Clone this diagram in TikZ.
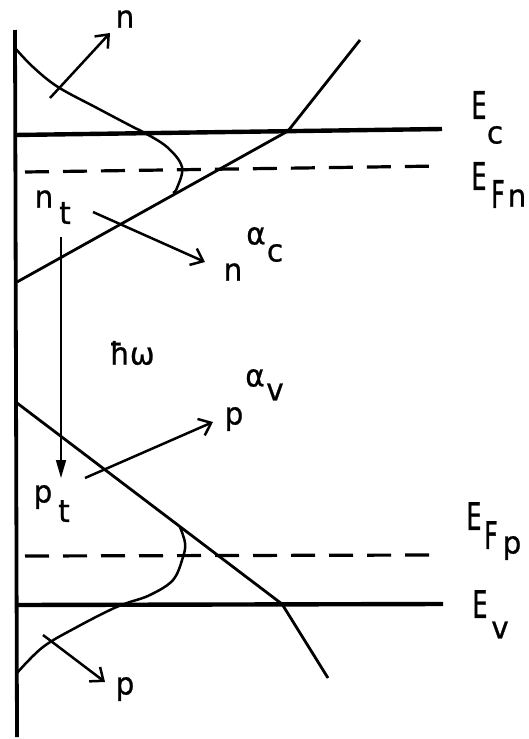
\documentclass[tikz,border=0pt]{standalone}
\usepackage{fontspec}
\usetikzlibrary{arrows.meta}
\newfontfamily\uf[FakeStretch=0.62,FakeBold=0.8]{DejaVu Sans}
\newfontfamily\lf[FakeStretch=0.95,FakeBold=0.8]{DejaVu Sans}
\begin{document}
\begin{tikzpicture}[x=1pt,y=-1pt,
  axisln/.style={line width=3.8pt},
  band/.style={line width=4.4pt},
  edge/.style={line width=2.8pt},
  curve/.style={line width=2.5pt},
  thinln/.style={line width=1.6pt},
  fermi/.style={line width=3.2pt, dash pattern=on 24pt off 14pt},
  barb/.style={line width=2.5pt,-{Straight Barb[length=11pt,width=18pt]}},
  up/.style={font=\uf\fontsize{38}{38}\selectfont,inner sep=0pt},
  low/.style={font=\lf\fontsize{31}{31}\selectfont,inner sep=0pt},
  hbar/.style={font=\lf\fontsize{31}{31}\selectfont,inner sep=0pt}]
\fill[white] (0,0) rectangle (528,739);
\useasboundingbox (0,0) rectangle (528,739);
% coordinates
\coordinate (axT) at (15,30);  \coordinate (axB) at (17,737);
\coordinate (EcL) at (15,135); \coordinate (EcR) at (442,129);
\coordinate (FnL) at (25,172); \coordinate (FnR) at (440,166);
\coordinate (FpL) at (25,556); \coordinate (FpR) at (432,555);
\coordinate (EvL) at (17,605); \coordinate (EvR) at (443,604);
\coordinate (cb0) at (17,282); \coordinate (cb1) at (288,131); \coordinate (cb2) at (360,40);
\coordinate (vb0) at (17,403); \coordinate (vb1) at (282,604); \coordinate (vb2) at (328,678);
\coordinate (nS) at (50,98);   \coordinate (nE) at (110,33);
\coordinate (ncS) at (93,212); \coordinate (ncE) at (205,262);
\coordinate (tS) at (61,237);  \coordinate (tE) at (61,478);
\coordinate (pvS) at (85,478); \coordinate (pvE) at (213,422);
\coordinate (pS) at (43,635);  \coordinate (pE) at (105,682);
% axis and levels
\draw[axisln] (axT) -- (axB);
\draw[band] (EcL) -- (EcR);
\draw[band] (EvL) -- (EvR);
\draw[fermi] (FnL) -- (FnR);
\draw[fermi] (FpL) -- (FpR);
% band edges
\draw[edge] (cb0) -- (cb1) -- (cb2);
\draw[edge] (vb0) -- (vb1) -- (vb2);
% distributions
\draw[curve] plot[smooth,tension=0.6] coordinates {(15,48) (33,67) (58,87) (97,108) (133,127) (143,132) (167,147) (182,167) (177,188) (173,193)};
\draw[curve] plot[smooth,tension=0.6] coordinates {(180,527) (185,543) (183,557) (173,580) (150,595) (127,603) (110,610) (77,627) (43,647) (17,673)};
% arrows
\draw[barb] (nS) -- (nE);
\draw[barb] (ncS) -- (ncE);
\draw[barb] (pvS) -- (pvE);
\draw[barb] (pS) -- (pE);
\draw[thinln,-{Triangle[length=18pt,width=10pt]}] (tS) -- (tE);
% labels
\node[low] (ln) at (125,19) {n};
\node[up] (Ec1) at (479,105) {E};
\node[low] (Ec2) at (495,135) {c};
\node[up] (Fn1) at (479,176) {E};
\node[up] (Fn2) at (498,194) {F};
\node[low] (Fn3) at (517,198) {n};
\node[low] (nt1) at (44,199) {n};
\node[low] (nt2) at (65,213) {t};
\node[low] (nc1) at (233,272) {n};
\node[low] (nc2) at (256,236) {α};
\node[low] (nc3) at (275,253) {c};
\node[hbar] (hw) at (132,353) {ħω};
\node[low] (pv1) at (234,419) {p};
\node[low] (pv2) at (255,378) {α};
\node[low] (pv3) at (275,392) {v};
\node[low] (pt1) at (43,497) {p};
\node[low] (pt2) at (64,511) {t};
\node[up] (Fp1) at (474,516) {E};
\node[up] (Fp2) at (491,535) {F};
\node[low] (Fp3) at (512,548) {p};
\node[up] (Ev1) at (480,604) {E};
\node[low] (Ev2) at (500,630) {v};
\node[low] (lp) at (125,689) {p};
\end{tikzpicture}
\end{document}
